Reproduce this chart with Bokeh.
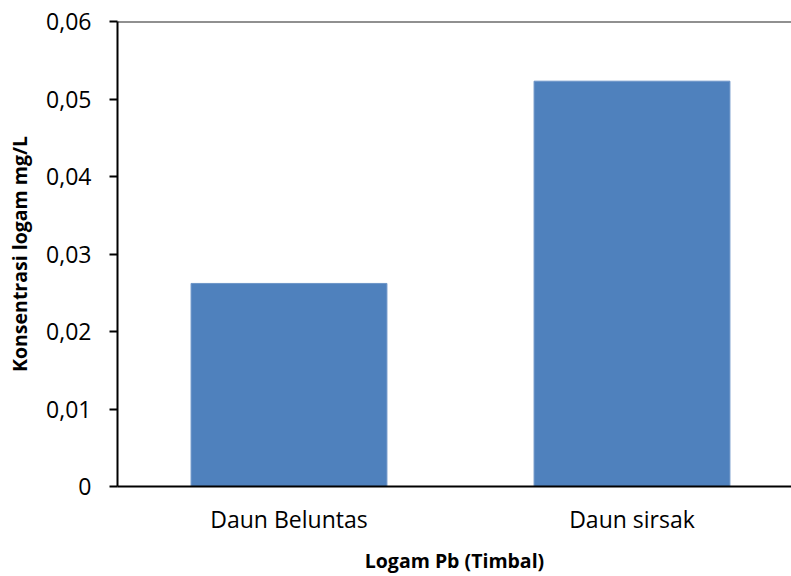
from bokeh.plotting import figure
from bokeh.models import Range1d, FixedTicker, Span, ColumnDataSource
from bokeh.embed import file_html
from bokeh.resources import INLINE

categories = ["Daun Beluntas", "Daun sirsak"]
values = [0.0262, 0.0523]
y_ticks = [0, 0.01, 0.02, 0.03, 0.04, 0.05, 0.06]
y_tick_labels = ["0", "0,01", "0,02", "0,03", "0,04", "0,05", "0,06"]
x_title = "Logam Pb (Timbal)"
y_title = "Konsentrasi logam mg/L"

FONT = "Open Sans"

xs = [i + 0.5 for i in range(len(categories))]
src = ColumnDataSource(dict(x=xs, top=values))

p = figure(width=791, height=576, output_backend="svg", toolbar_location=None,
           x_range=Range1d(0, 1.965), y_range=Range1d(0, 0.06),
           min_border_left=117, min_border_right=0, min_border_top=21,
           min_border_bottom=90)

p.vbar(x="x", top="top", width=0.571, source=src,
       fill_color="#4F81BD", line_color="#6d95c8", line_width=1)

p.outline_line_color = None
p.grid.visible = False
p.background_fill_color = "white"

# top border line
p.add_layout(Span(location=0.06, dimension="width", line_color="#222222", line_width=2))

xa = p.xaxis[0]
xa.ticker = FixedTicker(ticks=xs)
xa.major_label_overrides = {x: c for x, c in zip(xs, categories)}
xa.major_tick_line_color = None
xa.minor_tick_line_color = None
xa.axis_line_width = 2
xa.axis_line_color = "black"
xa.major_label_text_font = FONT
xa.major_label_text_font_size = "23px"
xa.major_label_text_color = "black"
xa.major_label_standoff = 10
xa.axis_label = x_title
xa.axis_label_text_font = FONT
xa.axis_label_text_font_size = "19.5px"
xa.axis_label_text_font_style = "bold"
xa.axis_label_text_color = "black"
xa.axis_label_standoff = 9

ya = p.yaxis[0]
ya.ticker = FixedTicker(ticks=y_ticks)
ya.major_label_overrides = {t: l for t, l in zip(y_ticks, y_tick_labels)}
ya.minor_tick_line_color = None
ya.major_tick_out = 8
ya.major_tick_in = 0
ya.major_tick_line_width = 2
ya.axis_line_width = 2
ya.axis_line_color = "black"
ya.major_label_text_font = FONT
ya.major_label_text_font_size = "23px"
ya.major_label_text_color = "black"
ya.major_label_standoff = 18
ya.axis_label = y_title
ya.axis_label_text_font = FONT
ya.axis_label_text_font_size = "19.5px"
ya.axis_label_text_font_style = "bold"
ya.axis_label_text_color = "black"
ya.axis_label_standoff = 10

open("out.html", "w").write(file_html(p, INLINE))
